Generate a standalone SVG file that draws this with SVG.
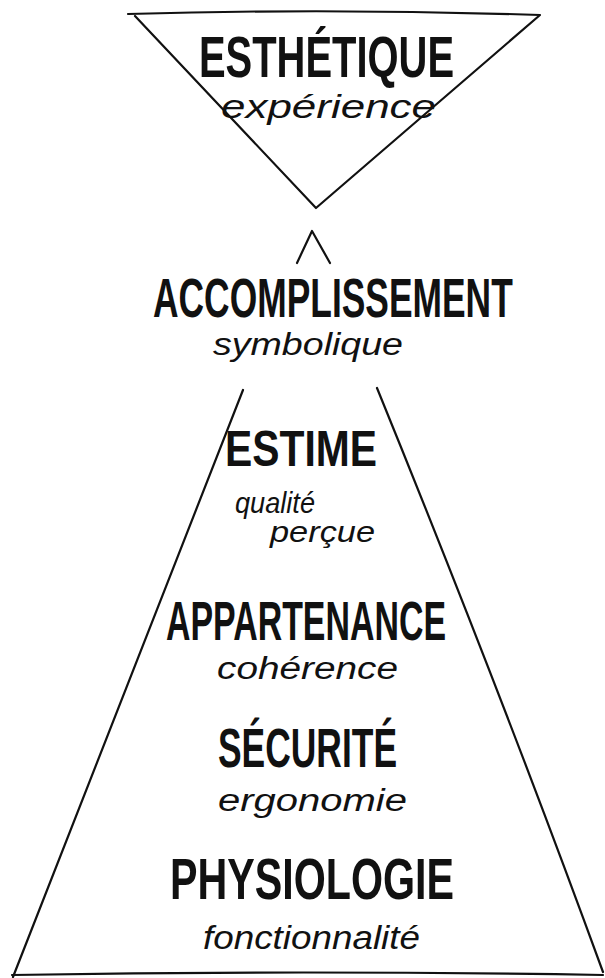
<svg xmlns="http://www.w3.org/2000/svg" width="605" height="978" viewBox="0 0 605 978">
<style>
.ln{fill:none;stroke:#111;stroke-width:2.2;stroke-linecap:round;stroke-linejoin:round}
.cap{font-family:"Liberation Sans","DejaVu Sans",sans-serif;font-weight:bold;fill:#111;text-anchor:start}
.sub{font-family:"Liberation Sans","DejaVu Sans",sans-serif;font-style:italic;font-weight:normal;fill:#111;text-anchor:start}
</style>
<rect width="605" height="978" fill="#ffffff"/>
<g id="connectors">
<path class="ln" d="M297,263 L312,231 L330,263"/>
</g>
<g id="esthetique">
<path class="ln" d="M128,14 Q330,8 540,15 L316,208 L135,16"/>
<text class="cap" x="199" y="77" font-size="58" textLength="255" lengthAdjust="spacingAndGlyphs">ESTHÉTIQUE</text>
<text class="sub" x="221" y="118" font-size="33" textLength="215" lengthAdjust="spacingAndGlyphs">expérience</text>
</g>
<g id="accomplissement">
<text class="cap" transform="translate(153,317) scale(0.7,1)" x="0" y="0" font-size="55" textLength="514" lengthAdjust="spacingAndGlyphs">ACCOMPLISSEMENT</text>
<text class="sub" x="213" y="355" font-size="31" textLength="190" lengthAdjust="spacingAndGlyphs">symbolique</text>
</g>
<g id="pyramide">
<path class="ln" d="M243,390 L13,977"/>
<path class="ln" d="M377,388 Q500,690 603,972"/>
<path class="ln" d="M12,975 Q300,970 603,975"/>
</g>
<g id="estime">
<text class="cap" x="225" y="466" font-size="50" textLength="152" lengthAdjust="spacingAndGlyphs">ESTIME</text>
<text class="sub" x="235" y="513" font-size="30" textLength="80" lengthAdjust="spacingAndGlyphs">qualité</text>
<text class="sub" x="270" y="542" font-size="30" textLength="105" lengthAdjust="spacingAndGlyphs">perçue</text>
</g>
<g id="appartenance">
<text class="cap" transform="translate(166,640) scale(0.7,1)" x="0" y="0" font-size="55" textLength="400" lengthAdjust="spacingAndGlyphs">APPARTENANCE</text>
<text class="sub" x="217" y="679" font-size="31" textLength="181" lengthAdjust="spacingAndGlyphs">cohérence</text>
</g>
<g id="securite">
<text class="cap" x="218" y="767" font-size="55" textLength="179" lengthAdjust="spacingAndGlyphs">SÉCURITÉ</text>
<text class="sub" x="218" y="811" font-size="31" textLength="189" lengthAdjust="spacingAndGlyphs">ergonomie</text>
</g>
<g id="physiologie">
<text class="cap" x="170" y="899" font-size="58" textLength="284" lengthAdjust="spacingAndGlyphs">PHYSIOLOGIE</text>
<text class="sub" x="203" y="949" font-size="33" textLength="217" lengthAdjust="spacingAndGlyphs">fonctionnalité</text>
</g>
</svg>
